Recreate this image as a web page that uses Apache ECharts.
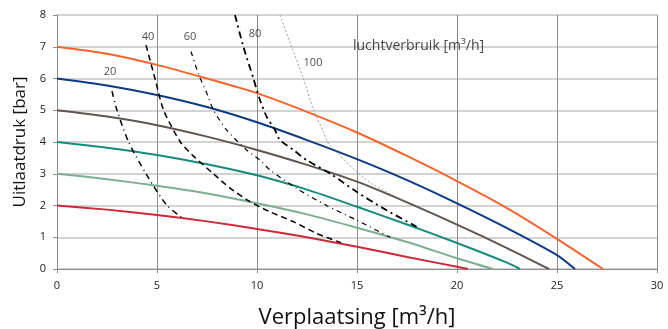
<!DOCTYPE html>
<html>
<head>
<meta charset="utf-8">
<script src="https://cdn.jsdelivr.net/npm/echarts@6/dist/echarts.min.js"></script>
<style>
  html, body { margin: 0; padding: 0; background: #fff; }
  #chart { width: 668px; height: 329px; }
</style>
</head>
<body>
<div id="chart"></div>
<script>
// pompcurves (verplaatsing m3/h, druk bar)
const curve7 = [[0, 7], [2.5, 6.78], [5, 6.43], [7.5, 6.0], [10, 5.54], [12.5, 4.95], [15, 4.3], [17.5, 3.56], [20, 2.77], [22.5, 1.92], [25, 0.95], [27.3, 0]];
const curve6 = [[0, 6], [2.5, 5.78], [5, 5.48], [7.5, 5.1], [10, 4.62], [12.5, 4.06], [15, 3.46], [17.5, 2.8], [20, 2.07], [22.5, 1.29], [25, 0.44], [25.9, 0]];
const curve5 = [[0, 5], [2.5, 4.8], [5, 4.53], [7.5, 4.17], [10, 3.75], [12.5, 3.28], [15, 2.75], [17.5, 2.1], [20, 1.4], [22.5, 0.66], [24.6, 0]];
const curve4 = [[0, 4], [2.5, 3.82], [5, 3.59], [7.5, 3.3], [10, 2.95], [12.5, 2.5], [15, 1.96], [17.5, 1.4], [20, 0.82], [22.5, 0.2], [23.15, 0]];
const curve3 = [[0, 3], [2.5, 2.83], [5, 2.62], [7.5, 2.38], [10, 2.07], [12.5, 1.72], [15, 1.3], [17.5, 0.85], [20, 0.34], [21.8, 0]];
const curve2 = [[0, 2], [2.5, 1.87], [5, 1.7], [7.5, 1.5], [10, 1.26], [12.5, 1.0], [15, 0.7], [17.5, 0.38], [20, 0.07], [20.55, 0]];

// luchtverbruik lijnen
const air20 = [[2.75, 5.6], [3.0, 5.0], [3.58, 4.0], [4.45, 3.0], [5.5, 2.0], [6.3, 1.6]];
const air40 = [[4.45, 7.05], [4.9, 6.0], [5.33, 5.0], [6.17, 4.0], [6.75, 3.6], [7.82, 3.0], [8.65, 2.55], [9.65, 2.12], [10.65, 1.8], [11.82, 1.49], [12.98, 1.12], [14.2, 0.83]];
const air60 = [[6.7, 6.85], [7.1, 6.1], [7.45, 5.6], [7.83, 5.0], [8.48, 4.38], [9.48, 3.75], [10.15, 3.43], [10.65, 3.12], [11.98, 2.54], [13.48, 2.0], [14.98, 1.54], [16.65, 1.0]];
const air80 = [[8.9, 8], [9.32, 7.0], [9.82, 6.0], [10.15, 5.32], [10.48, 4.8], [10.9, 4.38], [11.15, 4.06], [11.82, 3.75], [12.48, 3.43], [13.65, 3.01], [14.98, 2.43], [16.32, 1.91], [17.98, 1.33]];
const air100 = [[11.15, 8], [11.73, 7.0], [12.32, 6.0], [12.83, 5.0], [13.32, 4.32], [13.57, 3.96], [14.98, 3.06], [15.82, 2.65], [17.3, 2.17]];

// labels bij de luchtlijnen
const airLabels = [[2.65, 6.2, '20'], [4.55, 7.3, '40'], [6.65, 7.3, '60'], [9.9, 7.4, '80'], [12.8, 6.48, '100']];
const titleLabel = [[14.8, 7.02, 'luchtverbruik [m³/h]']];

const font = 'Open Sans';

const pumpSeries = [
    { data: curve7, color: '#f4652e' },
    { data: curve6, color: '#0d3a85' },
    { data: curve5, color: '#5f5652' },
    { data: curve4, color: '#168a7c' },
    { data: curve3, color: '#7cae92' },
    { data: curve2, color: '#cc2a36' },
].map(c => ({
    type: 'line',
    data: c.data,
    smooth: 0.25,
    symbol: 'none',
    lineStyle: { color: c.color, width: 2 },
    z: 3,
}));

const airSeries = [
    { data: air20, type: [6, 4, 1, 4], color: '#000', width: 1.5 },
    { data: air40, type: [6, 4], color: '#000', width: 1.5 },
    { data: air60, type: [5, 4, 1, 4], color: '#000', width: 1.2 },
    { data: air80, type: [7, 4, 2, 4], color: '#000', width: 1.8 },
    { data: air100, type: [2, 2], color: '#888', width: 0.8 },
].map(c => ({
    type: 'line',
    data: c.data,
    smooth: 0.25,
    symbol: 'none',
    lineStyle: { color: c.color, width: c.width, type: c.type },
    z: 4,
}));

const chart = echarts.init(document.getElementById('chart'));
chart.setOption({
    animation: false,
    grid: { left: 57, right: 11, top: 15, bottom: 60, outerBoundsMode: 'none' },
    xAxis: {
        type: 'value',
        min: 0,
        max: 30,
        interval: 5,
        name: 'Verplaatsing [m³/h]',
        nameLocation: 'middle',
        nameGap: 38,
        nameTextStyle: { fontFamily: font, fontSize: 22, color: '#111' },
        axisLine: { lineStyle: { color: '#8c8c8c', width: 1 } },
        axisTick: { show: true, length: 4, lineStyle: { color: '#8c8c8c' } },
        axisLabel: { fontFamily: font, fontSize: 11, color: '#222', margin: 11 },
        splitLine: { lineStyle: { color: '#8c8c8c', width: 1 } },
    },
    yAxis: {
        type: 'value',
        min: 0,
        max: 8,
        interval: 1,
        name: 'Uitlaatdruk [bar]',
        nameLocation: 'middle',
        nameGap: 28,
        nameTextStyle: { fontFamily: font, fontSize: 17, color: '#111' },
        axisLine: { show: true, lineStyle: { color: '#8c8c8c', width: 1 } },
        axisTick: { show: true, length: 4, lineStyle: { color: '#8c8c8c' } },
        axisLabel: { fontFamily: font, fontSize: 11, color: '#222', margin: 11 },
        splitLine: { lineStyle: { color: '#c4c4c4', width: 1.5 } },
    },
    series: [
        ...pumpSeries,
        ...airSeries,
        {
            type: 'scatter',
            data: airLabels,
            symbolSize: 0,
            label: {
                show: true,
                position: 'inside',
                formatter: p => p.data[2],
                fontFamily: font,
                fontSize: 11,
                color: '#222',
            },
            z: 5,
        },
        {
            type: 'scatter',
            data: titleLabel,
            symbolSize: 0,
            label: {
                show: true,
                position: 'right',
                distance: 0,
                formatter: p => p.data[2],
                fontFamily: font,
                fontSize: 14,
                color: '#111',
            },
            z: 5,
        },
    ],
});
</script>
</body>
</html>
